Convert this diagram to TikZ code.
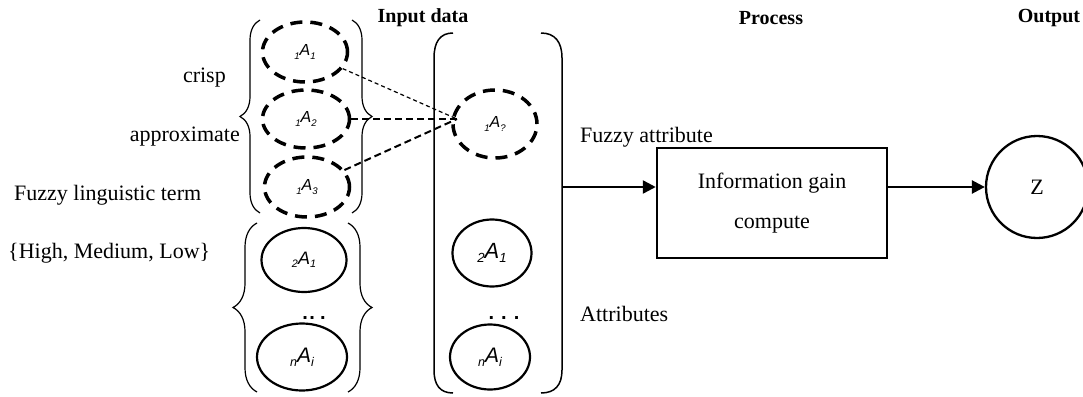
\documentclass[tikz,border=0pt]{standalone}
\usepackage{fontspec}
\usepackage{graphicx}
\setmainfont{Liberation Serif}
\newfontfamily\arialf{Liberation Sans}
\usetikzlibrary{shapes.geometric,arrows.meta,decorations.pathreplacing}
\newcommand{\attr}[2]{{\arialf\itshape\raisebox{-0.2em}{\scalebox{0.6}{#1}}A\raisebox{-0.2em}{\scalebox{0.6}{#2}}}}
\begin{document}
\begin{tikzpicture}[x=1pt,y=-1pt,
  dashell/.style={ellipse, draw, line width=3.5pt, dash pattern=on 12pt off 8pt, inner sep=0pt, font=\fontsize{16}{18}\selectfont},
  solell/.style={ellipse, draw, line width=2.2pt, inner sep=0pt},
  lbl/.style={inner sep=0pt, font=\fontsize{22}{26}\selectfont},
  head/.style={inner sep=0pt, font=\bfseries\fontsize{20}{24}\selectfont},
  brc/.style={decorate, decoration={brace, amplitude=#1}, line width=1.2pt},
  arr/.style={-{Triangle[length=13pt,width=13pt]}, line width=2.5pt},
  thindash/.style={line width=1.2pt, dash pattern=on 4pt off 3pt},
  meddash/.style={line width=2pt, dash pattern=on 7pt off 4pt},
  dots/.style={inner sep=0pt, anchor=base, font=\arialf\bfseries\fontsize{20}{20}\selectfont}]
\useasboundingbox (0,0) rectangle (1083,396);

% headings
\node[head] (hin) at (423,18) {Input data};
\node[head] (hpr) at (771,18) {Process};
\node[head] (hout) at (1049,18) {Output};

% left labels
\node[lbl, anchor=east] (crisp) at (226,78) {crisp};
\node[lbl, anchor=east] (approx) at (240,137) {approximate};
\node[lbl, anchor=west] (fling) at (14,195) {Fuzzy linguistic term};
\node[lbl, anchor=west] (hml) at (8,253) {\{High, Medium, Low\}};

% braces
\draw[brc=20pt] (260,213) -- (260,20);
\draw[brc=20pt] (352,20) -- (352,213);
\draw[brc=24pt] (257,392) -- (257,223);
\draw[brc=24pt] (348,223) -- (348,392);

% middle bracket
\draw[line width=1.5pt] (453,33) .. controls (440,33) and (434,42) .. (434,58) -- (434,370) .. controls (434,385) and (440,393) .. (453,393);
\draw[line width=1.5pt] (541,33) .. controls (555,33) and (562,42) .. (562,58) -- (562,370) .. controls (562,385) and (555,393) .. (541,393);

% ellipses, left column
\node[dashell, minimum width=85pt, minimum height=60pt] (a11) at (305,52) {\attr{1}{1}};
\node[dashell, minimum width=87pt, minimum height=58pt] (a12) at (306,119) {\attr{1}{2}};
\node[dashell, minimum width=85pt, minimum height=60pt] (a13) at (307,187) {\attr{1}{3}};
\node[solell, minimum width=85pt, minimum height=64pt, font=\fontsize{18}{20}\selectfont] (b21) at (304,260) {\attr{2}{1}};
\node[solell, minimum width=90pt, minimum height=67pt, font=\fontsize{21}{23}\selectfont] (bn) at (302,357) {\attr{n}{i}};
\node[dots] (ldots) at (314,319.5) {.\kern1.5pt.\kern5pt.};

% ellipses, middle column
\node[dashell, minimum width=84pt, minimum height=68pt] (aq) at (495,124) {\attr{1}{?}};
\node[solell, minimum width=79pt, minimum height=67pt, font=\fontsize{22}{24}\selectfont] (c21) at (492,253) {\attr{2}{1}};
\node[solell, minimum width=80pt, minimum height=65pt, font=\fontsize{21}{23}\selectfont] (cn) at (490,357) {\attr{n}{i}};
\node[dots] (mdots) at (504,319.5) {.\kern7pt.\kern7pt.};

% dashed connectors
\coordinate (meet) at (457,119);
\draw[thindash] (a11) -- (meet);
\draw[meddash] (a12) -- (meet);
\draw[meddash] (a13) -- (meet);

% process
\node[lbl, anchor=west] (fattr) at (580,137) {Fuzzy attribute};
\node[lbl, anchor=west] (attrs) at (580,314) {Attributes};
\node[draw, line width=2.5pt, minimum width=230pt, minimum height=110pt, align=center, font=\fontsize{22}{40}\selectfont] (box) at (772,203) {Information gain\\compute};
\node[circle, draw, line width=2.3pt, minimum size=102pt, inner sep=0pt, font=\fontsize{22}{26}\selectfont] (z) at (1037,187) {Z};

\coordinate (out) at (562,187);
\draw[arr] (out) -- (out -| box.west);
\draw[arr] (out -| box.east) -- (z.west);
\end{tikzpicture}
\end{document}
